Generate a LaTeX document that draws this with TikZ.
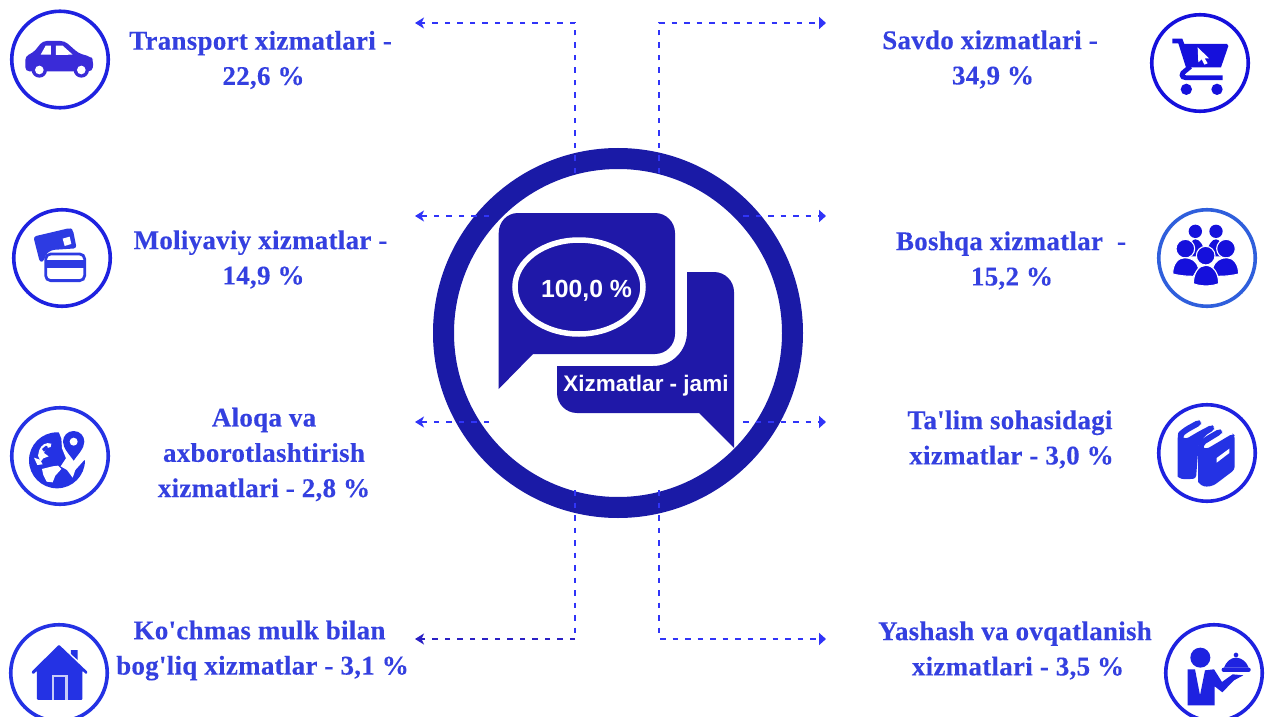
\documentclass[tikz,border=0pt]{standalone}
\usepackage{fontspec}
\setmainfont{Liberation Serif}
\setsansfont{Liberation Sans}
\newfontfamily\labfont[LetterSpace=1.0,FakeBold=0.2]{Liberation Serif Bold}
\usetikzlibrary{arrows.meta,shapes.geometric}
\definecolor{ringc}{HTML}{1A1AA6}
\definecolor{bubc}{HTML}{1F18A8}
\definecolor{txtc}{HTML}{3440E0}
\definecolor{dotc}{HTML}{3034F8}
\definecolor{dotd}{HTML}{2A20C4}
\definecolor{icoA}{HTML}{1E22E0}
\definecolor{icoB}{HTML}{2432E4}
\definecolor{icoC}{HTML}{2F5FDC}
\definecolor{icoD}{HTML}{1510DC}
\definecolor{icoE}{HTML}{3A2BD8}
\definecolor{icoF}{HTML}{2D3BE2}
\newcommand{\apo}{\symbol{39}}
\newcommand{\nudge}[1]{\hspace*{#1pt}}
\tikzset{
  x=1pt,y=-1pt,
  lab/.style={align=center,text=txtc,font=\fontsize{27}{35.3}\labfont,inner sep=0pt},
  iconring/.style={circle,draw=#1,line width=3.6pt,minimum size=96.5pt,inner sep=0pt,fill=white},
  dots/.style={draw=dotc,line width=2.8pt,dash pattern=on 5.5pt off 7pt},
  rtip/.style={-{Triangle[length=7pt,width=12pt]}},
  ltip/.style={-{Stealth[length=9pt,width=11pt,inset=2.5pt]}},
  zoomed/.style={shift={#1},x=0.3333pt,y=-0.3333pt},
}
\begin{document}
\begin{tikzpicture}
\useasboundingbox[fill=white] (0,0) rectangle (1270,717);
% centre
\node[circle,draw=ringc,line width=21pt,minimum size=349pt,inner sep=0pt] (ring) at (618,333) {};
\fill[bubc] (518,213) -- (655,213) .. controls (666,213) and (675,222) .. (675,233) -- (675,334)
  .. controls (675,345) and (666,354) .. (655,354) -- (533,354) -- (498.7,389) -- (498.7,233)
  .. controls (498.7,222) and (507,213) .. (518,213) -- cycle;
\fill[bubc] (687,272) -- (714,272) .. controls (725,272) and (734,281) .. (734,292) -- (734,448)
  -- (699,413) -- (577,413) .. controls (566,413) and (557,404) .. (557,393) -- (557,366) -- (653,366)
  .. controls (672,366) and (687,351) .. (687,332) -- cycle;
\node[ellipse,draw=white,line width=5.5pt,minimum width=128pt,minimum height=94pt,inner sep=0pt] (oval) at (579,287) {};
\node[text=white,inner sep=0pt,font=\fontsize{24.8}{26}\selectfont\sffamily\bfseries] (total) at (586.5,290.5) {100,0 \%};
\node[text=white,inner sep=0pt,font=\fontsize{22.5}{26}\selectfont\sffamily\bfseries] (jami) at (646,385.5) {Xizmatlar - jami};
% connectors
\coordinate (tl0) at (575,173); \coordinate (tl1) at (575,23); \coordinate (tlE) at (415,23);
\coordinate (tr0) at (659,173); \coordinate (tr1) at (659,23); \coordinate (trE) at (826,23);
\coordinate (ml0) at (489,216); \coordinate (mlE) at (415,216);
\coordinate (mr0) at (743,216); \coordinate (mrE) at (826,216);
\coordinate (ll0) at (489,422); \coordinate (llE) at (415,422);
\coordinate (lr0) at (743,422); \coordinate (lrE) at (826,422);
\coordinate (bl0) at (575,490); \coordinate (bl1) at (575,639); \coordinate (blE) at (415,639);
\coordinate (br0) at (659,490); \coordinate (br1) at (659,639); \coordinate (brE) at (826,639);
\draw[dots,ltip] (tl0) -- (tl1) -- (tlE);
\draw[dots,rtip] (tr0) -- (tr1) -- (trE);
\draw[dots,ltip] (ml0) -- (mlE);
\draw[dots,rtip] (mr0) -- (mrE);
\draw[dots,ltip] (ll0) -- (llE);
\draw[dots,rtip] (lr0) -- (lrE);
\draw[dots] (bl0) -- (bl1);
\draw[dots,draw=dotd,ltip] (bl1) -- (blE);
\draw[dots,rtip] (br0) -- (br1) -- (brE);
% labels
\node[lab] (t1) at (260.5,60) {Transport xizmatlari -\\\nudge{6}22,6 \%};
\node[lab] (t2) at (260.5,259.5) {Moliyaviy xizmatlar -\\\nudge{6}14,9 \%};
\node[lab] (t3) at (264,454.5) {Aloqa va\\axborotlashtirish\\xizmatlari - 2,8 \%};
\node[lab] (t4) at (262.5,650.5) {Ko\apo chmas mulk bilan\nudge{6}\\bog\apo liq xizmatlar - 3,1 \%};
\node[lab] (t5) at (990,59.5) {Savdo xizmatlari -\\\nudge{6}34,9 \%};
\node[lab] (t6) at (1011,260.5) {Boshqa xizmatlar\ \ -\\\nudge{2}15,2 \%};
\node[lab] (t7) at (1010,439.5) {Ta\apo lim sohasidagi\\\nudge{3}xizmatlar - 3,0 \%};
\node[lab] (t8) at (1015,650.5) {Yashash va ovqatlanish\\\nudge{6}xizmatlari - 3,5 \%};
% icon rings
\node[iconring=icoA] (i1) at (60,59.5) {};
\node[iconring=icoA] (i2) at (62,258) {};
\node[iconring=icoB] (i3) at (60,456) {};
\node[iconring=icoB] (i4) at (59,673) {};
\node[iconring=icoD] (i5) at (1200,63) {};
\node[iconring=icoC] (i6) at (1207,258) {};
\node[iconring=icoA] (i7) at (1207,453) {};
\node[iconring=icoA] (i8) at (1214,673) {};
% car
\begin{scope}[zoomed={(0,0)}]
\fill[icoE,rounded corners=4pt] (76,168) -- (100,158) -- (128,123) -- (194,123) -- (236,160) -- (272,170) -- (280,180) -- (278,214) -- (76,214) -- cycle;
\fill[white] (122,164) -- (137,137) -- (153,137) -- (153,164) -- cycle;
\fill[white] (168,137) -- (188,137) -- (218,164) -- (168,165) -- cycle;
\fill[icoE] (118,210) circle[radius=23] (244,210) circle[radius=23];
\fill[white] (118,210) circle[radius=13] (244,210) circle[radius=13];
\end{scope}
% cards
\begin{scope}[zoomed={(0,0)}]
\fill[icoF,rounded corners=3pt] (100,710) -- (210,684) -- (219,690) -- (230,745) -- (155,750) -- (136,764) -- (133,782) -- (120,788) -- cycle;
\fill[white] (188,716) -- (209,710) -- (214,732) -- (194,738) -- cycle;
\draw[icoF,line width=2.8pt,fill=white,rounded corners=5pt] (137,762) rectangle (254,842);
\fill[icoF] (137,779) rectangle (254,803);
\end{scope}
% globe
\begin{scope}[zoomed={(22,425)}]
\fill[icoB] (105,106) circle[radius=84];
\fill[white] (108,15) -- (205,10) -- (205,100) -- (186,106) -- (160,135) -- (152,158) -- (135,135) -- (116,124) -- (132,100) -- (120,70) -- (118,40) -- cycle;
\fill[icoB] (155,18) .. controls (174,18) and (187,33) .. (187,50) .. controls (187,70) and (168,88) .. (155,107) .. controls (142,88) and (123,70) .. (123,50) .. controls (123,33) and (136,18) .. (155,18) -- cycle;
\fill[white] (155,50) circle[radius=12];
\fill[white] (52,75) .. controls (58,60) and (72,50) .. (88,56) -- (86,66) -- (72,70) -- (66,84) -- (80,94) -- (64,100) -- (56,110) -- (48,92) -- cycle;
\fill[white] (36,98) -- (54,104) -- (62,118) -- (46,120) -- cycle;
\fill[white] (60,132) -- (92,124) -- (108,122) -- (118,132) -- (100,152) -- (92,172) -- (74,170) -- (64,150) -- cycle;
\fill[icoB] (60,72) -- (72,62) -- (78,66) -- (66,80) -- cycle;
\end{scope}
% house
\begin{scope}[zoomed={(25,640)}]
\fill[icoB] (138,30) -- (158,30) -- (158,60) -- (138,42) -- cycle;
\fill[icoB,rounded corners=1pt] (102,14) -- (188,96) -- (184,103) -- (172,92) -- (172,180) -- (36,180) -- (36,92) -- (25,103) -- (19,96) -- cycle;
\fill[white!75!icoB] (80,104) rectangle (128,180);
\fill[icoB] (88,112) rectangle (120,180);
\end{scope}
% cart
\begin{scope}[zoomed={(1165,30)}]
\fill[icoD] (22,26) -- (52,26) -- (58,42) -- (186,42) -- (190,48) -- (168,112) -- (80,112) -- (66,122) -- (40,40) -- (22,40) -- cycle;
\draw[icoD,line width=4.8pt,line cap=butt] (173,143) -- (62,143) .. controls (48,143) and (48,130) .. (60,123) -- (76,110);
\fill[icoD] (64,178) circle[radius=17] (156,178) circle[radius=17];
\fill[white] (98,52) -- (132,85) -- (119,85) -- (128,100) -- (118,104) -- (110,88) -- (100,97) -- cycle;
\end{scope}
% group
\begin{scope}[zoomed={(1168,218)}]
\fill[icoD] (82,40) circle[radius=20] (144,40) circle[radius=20];
\fill[icoD] (62,115) .. controls (62,80) and (72,64) .. (82,64) .. controls (95,64) and (108,80) .. (110,115) -- cycle;
\fill[icoD] (116,115) .. controls (118,80) and (132,64) .. (144,64) .. controls (155,64) and (165,80) .. (165,115) -- cycle;
\fill[icoD,draw=white,line width=1.1pt] (52,92) circle[radius=28] (174,92) circle[radius=28];
\fill[icoD,draw=white,line width=1.1pt] (14,168) .. controls (14,138) and (30,119) .. (50,119) .. controls (70,119) and (86,130) .. (92,150) -- (76,175) .. controls (50,175) and (30,172) .. (14,168) -- cycle;
\fill[icoD,draw=white,line width=1.1pt] (212,168) .. controls (212,138) and (196,119) .. (176,119) .. controls (156,119) and (140,130) .. (134,150) -- (150,175) .. controls (176,175) and (196,172) .. (212,168) -- cycle;
\fill[icoD,draw=white,line width=1.1pt] (113,113) circle[radius=28];
\fill[icoD,draw=white,line width=1.1pt] (76,197) .. controls (76,165) and (92,142) .. (113,142) .. controls (136,142) and (152,165) .. (152,197) .. controls (132,206) and (96,206) .. (76,197) -- cycle;
\end{scope}
% books
\begin{scope}[zoomed={(1140,397)}]
\fill[icoB,rounded corners=3pt] (113,118) .. controls (115,105) and (125,98) .. (135,90) -- (175,68) -- (183,74) -- (183,84) -- (140,108) .. controls (132,115) and (130,122) .. (138,126) -- (175,104) -- (215,83) -- (222,90) -- (222,100) -- (200,112) -- (176,140) -- (168,245) -- (135,247) .. controls (122,245) and (113,240) .. (113,230) -- cycle;
\fill[icoB,rounded corners=3pt] (174,150) .. controls (176,135) and (188,125) .. (198,118) -- (238,95) -- (246,102) -- (246,110) -- (205,135) .. controls (192,143) and (190,152) .. (200,156) -- (278,110) -- (284,115) -- (284,218) -- (222,265) -- (200,270) .. controls (182,265) and (174,255) .. (174,245) -- cycle;
\fill[white] (230,183) -- (268,155) -- (268,168) -- (230,197) -- cycle;
\end{scope}
% waiter
\begin{scope}[zoomed={(1140,397)}]
\fill[icoA] (181,782) circle[radius=30];
\fill[icoA] (143,817) -- (165,817) -- (180,895) -- (195,820) -- (222,817) -- (246,855) -- (278,832) -- (310,835) -- (282,850) -- (247,886) -- (224,868) -- (224,925) -- (143,925) -- cycle;
\fill[icoA] (288,774) circle[radius=7];
\fill[icoA] (252,812) .. controls (258,795) and (272,782) .. (288,782) .. controls (305,782) and (320,795) .. (326,812) -- cycle;
\fill[icoA,rounded corners=2pt] (245,812) rectangle (332,825);
\end{scope}
\end{tikzpicture}
\end{document}
